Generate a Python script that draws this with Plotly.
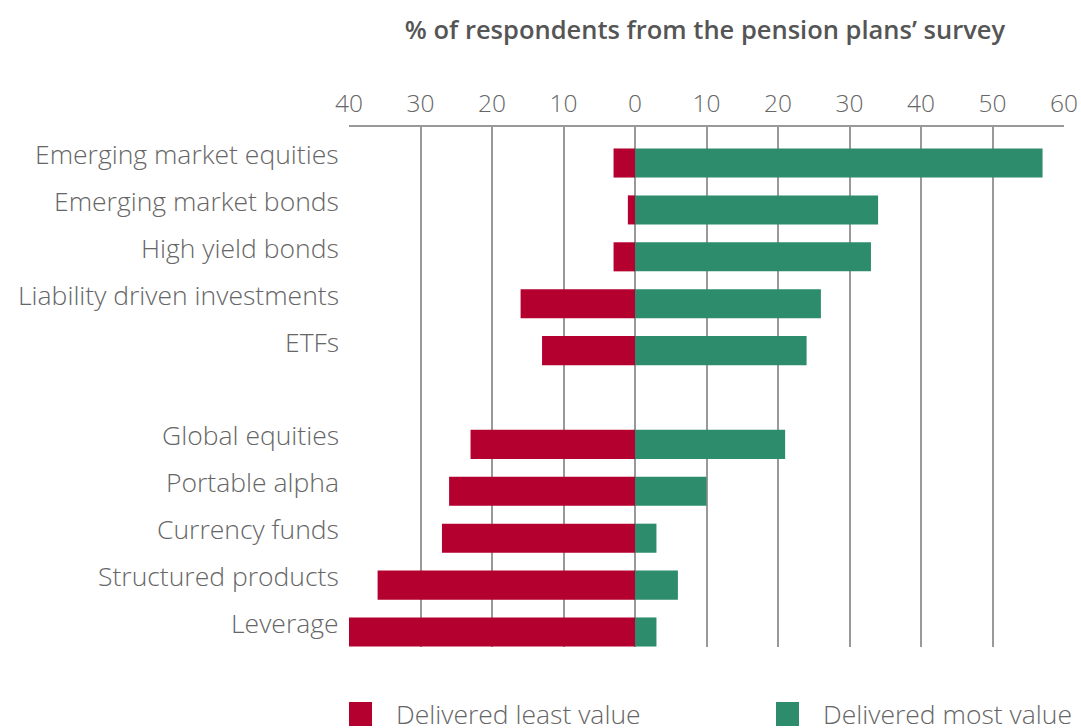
import plotly.graph_objects as go

categories = ["Emerging market equities", "Emerging market bonds", "High yield bonds",
              "Liability driven investments", "ETFs", " ",
              "Global equities", "Portable alpha", "Currency funds",
              "Structured products", "Leverage"]
least_value = [3, 1, 3, 16, 13, None, 23, 26, 27, 36, 40]
most_value = [57, 34, 33, 26, 24, None, 21, 10, 3, 6, 3]
tick_vals = [-40, -30, -20, -10, 0, 10, 20, 30, 40, 50, 60]
tick_text = ["40", "30", "20", "10", "0", "10", "20", "30", "40", "50", "60"]
series_names = ["Delivered least value", "Delivered most value"]
colors = ["#B3002F", "#2C8C6B"]
title_text = "% of respondents from the pension plans’ survey"

FONT = "Open Sans"
GREY = "#666666"
SIZE = 26.5
TICK_SIZE = 24.5

W, H = 1081, 728
PL, PR, PT, PB = 349, 1064, 127, 647

fig = go.Figure()
fig.add_trace(go.Bar(
    y=categories, x=[-v if v is not None else None for v in least_value],
    orientation="h", name=series_names[0], marker=dict(color=colors[0], line=dict(width=0)),
    showlegend=False))
fig.add_trace(go.Bar(
    y=categories, x=most_value,
    orientation="h", name=series_names[1], marker=dict(color=colors[1], line=dict(width=0)),
    showlegend=False))

fig.update_layout(
    template="none",
    width=W, height=H, autosize=False,
    margin=dict(l=PL, r=W - PR, t=PT, b=H - PB, pad=0, autoexpand=False),
    paper_bgcolor="white", plot_bgcolor="white",
    barmode="relative", bargap=0.38,
    font=dict(family=FONT, color=GREY, size=SIZE, weight=300),
    title=dict(text=title_text, x=705 / W, xanchor="center", y=1 - 30 / H, yanchor="middle",
               font=dict(family=FONT, size=25.5, color="#555555", weight=600)),
)
fig.update_xaxes(
    automargin=False,
    side="top", range=[-40, 60], tickvals=tick_vals, ticktext=tick_text,
    showgrid=True, gridcolor="#999999", gridwidth=1.6,
    zeroline=True, zerolinecolor="#999999", zerolinewidth=1.6,
    showline=True, linecolor="#999999", linewidth=1.6, mirror=False,
    ticks="", ticklabelstandoff=3,
    tickfont=dict(family=FONT, size=TICK_SIZE, color=GREY, weight=300),
)
fig.update_yaxes(
    automargin=False,
    categoryorder="array", categoryarray=categories,
    range=[10.32, -0.768],
    showgrid=False, zeroline=False, showline=False, ticks="",
    showticklabels=False,
)

# category labels sit slightly above their bars, as in the original
for cat in categories:
    if cat.strip():
        fig.add_annotation(xref="paper", yref="y", x=0, y=cat, xshift=-8, yshift=9,
                           text=cat, showarrow=False, xanchor="right", yanchor="middle",
                           font=dict(family=FONT, size=SIZE, color=GREY, weight=300))

# legend built from the series names and colours
ph = PB - PT
pw = PR - PL
leg_y = -(714 - PB) / ph
for name, col, x0 in zip(series_names, colors, [0.0, (776 - PL) / pw]):
    fig.add_shape(type="rect", xref="paper", yref="paper",
                  x0=x0, x1=x0 + 23 / pw, y0=leg_y - 12 / ph, y1=leg_y + 12 / ph,
                  fillcolor=col, line=dict(width=0))
    fig.add_annotation(xref="paper", yref="paper", x=x0 + 45 / pw, y=leg_y,
                       text=name, showarrow=False, xanchor="left", yanchor="middle",
                       font=dict(family=FONT, size=SIZE, color=GREY, weight=300))

fig.write_html(
    "out.html",
    config={"responsive": False, "displayModeBar": False},
    post_script="document.body.style.margin='0';document.body.style.overflow='hidden';",
)
